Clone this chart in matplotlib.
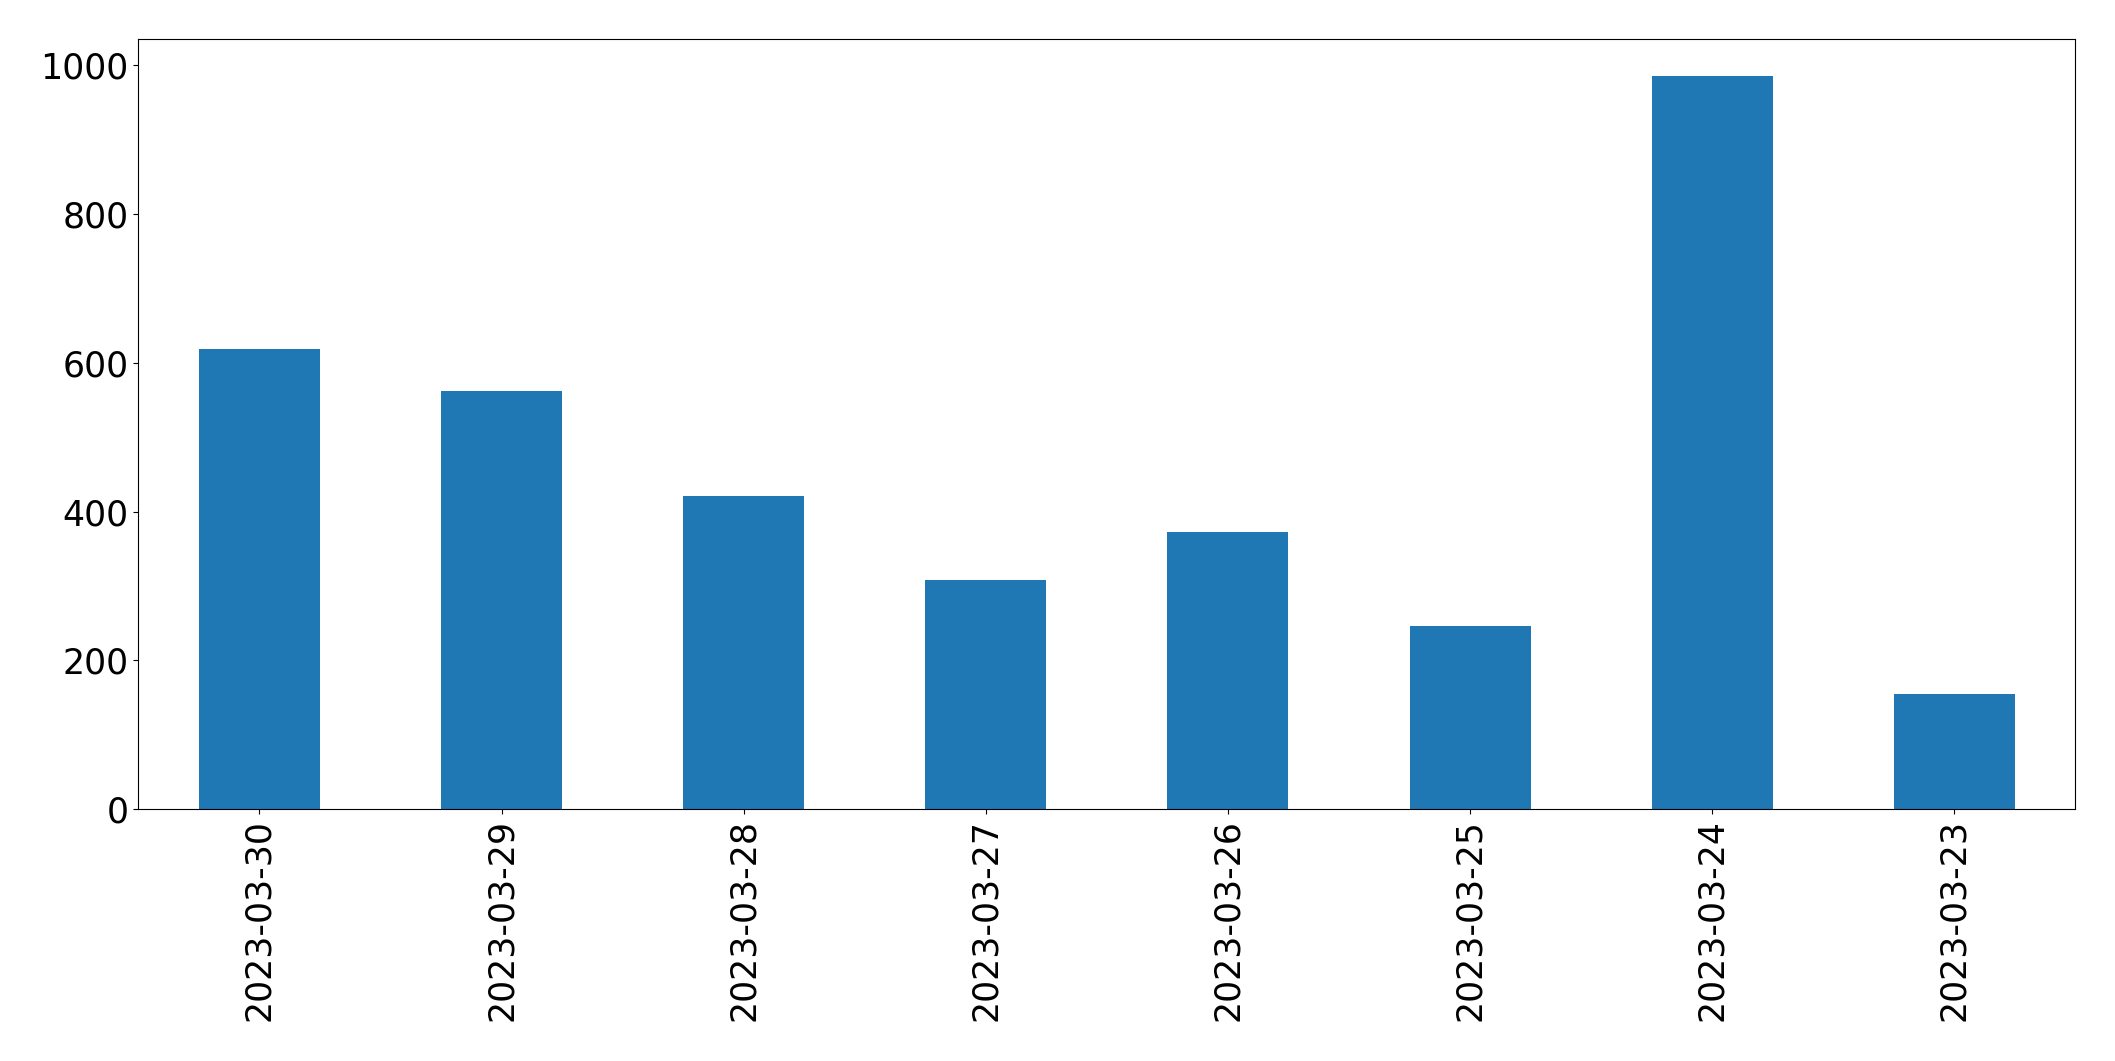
import matplotlib
matplotlib.use("Agg")
import matplotlib.pyplot as plt
import pandas as pd

dates = ["2023-03-30", "2023-03-29", "2023-03-28", "2023-03-27",
         "2023-03-26", "2023-03-25", "2023-03-24", "2023-03-23"]
counts = [619, 562, 421, 308, 373, 246, 985, 154]

s = pd.Series(counts, index=dates)

fig, ax = plt.subplots(figsize=(21.15, 10.61), dpi=100)
s.plot(kind="bar", ax=ax, color="#1f77b4", width=0.5)
ax.tick_params(axis="both", labelsize=25)
ax.set_ylim(0, 1035)
fig.subplots_adjust(left=0.0654, right=0.9813, top=0.963, bottom=0.2375)
fig.savefig("out.png", dpi=100)
